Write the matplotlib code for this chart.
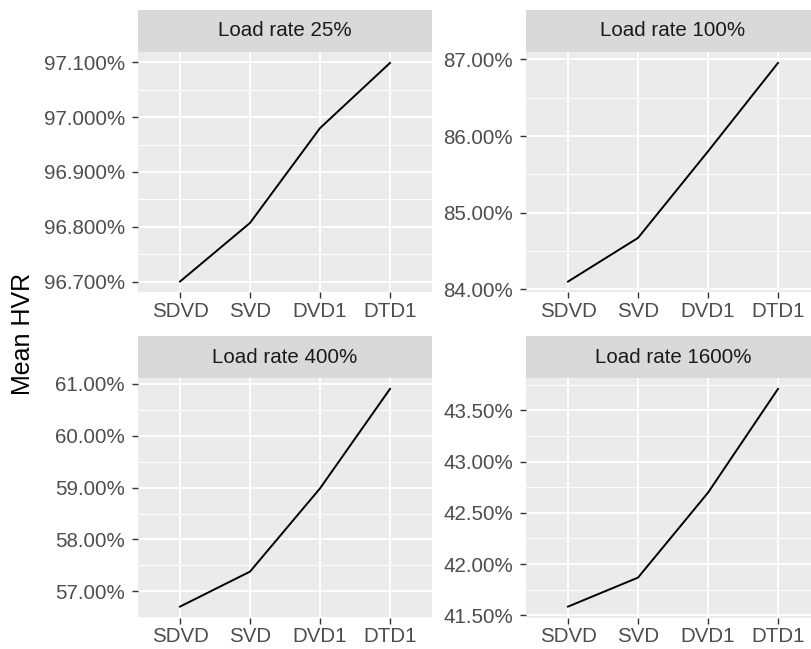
import matplotlib
matplotlib.use("Agg")
import matplotlib.pyplot as plt
from matplotlib.ticker import FixedLocator, AutoMinorLocator, FuncFormatter

plt.rcParams["font.family"] = ["Liberation Sans", "DejaVu Sans"]

methods = ["SDVD", "SVD", "DVD1", "DTD1"]
load_rates = ["25%", "100%", "400%", "1600%"]

# mean HVR in percent
hvr_25 = [96.700, 96.807, 96.980, 97.099]
hvr_100 = [84.10, 84.67, 85.80, 86.955]
hvr_400 = [56.705, 57.38, 58.985, 60.905]
hvr_1600 = [41.585, 41.868, 42.697, 43.71]

ticks_25 = [96.7, 96.8, 96.9, 97.0, 97.1]
ticks_100 = [84, 85, 86, 87]
ticks_400 = [57, 58, 59, 60, 61]
ticks_1600 = [41.5, 42.0, 42.5, 43.0, 43.5]
decimals = [3, 2, 2, 2]

series = [hvr_25, hvr_100, hvr_400, hvr_1600]
tick_sets = [ticks_25, ticks_100, ticks_400, ticks_1600]

W, H = 811, 649
fig = plt.figure(figsize=(W / 100, H / 100), dpi=100)

# panel boxes in pixels: (left, top, width, height)
panel_w = 294
lefts = [138, 526]
tops = [52, 378]
panel_h = [240.5, 239.5]
strip_h = 42

x = list(range(len(methods)))

for i, (vals, ticks, dec, rate) in enumerate(zip(series, tick_sets, decimals, load_rates)):
    row, col = divmod(i, 2)
    l, t = lefts[col], tops[row]
    ph = panel_h[row]
    ax = fig.add_axes([l / W, 1 - (t + ph) / H, panel_w / W, ph / H])
    ax.set_facecolor("#EBEBEB")
    for s in ax.spines.values():
        s.set_visible(False)

    ax.plot(x, vals, color="black", lw=1.4, zorder=3)

    ax.set_xlim(-0.6, len(methods) - 0.4)
    lo, hi = min(vals), max(vals)
    pad = (hi - lo) * 0.05
    ax.set_ylim(lo - pad, hi + pad)

    ax.set_xticks(x)
    ax.set_xticklabels(methods)
    ax.yaxis.set_major_locator(FixedLocator(ticks))
    ax.yaxis.set_minor_locator(AutoMinorLocator(2))
    ax.yaxis.set_major_formatter(FuncFormatter(lambda v, p, d=dec: f"{v:.{d}f}%"))

    ax.grid(True, which="major", color="white", lw=1.3)
    ax.grid(True, which="minor", axis="y", color="white", lw=0.65)
    ax.set_axisbelow(True)

    ax.tick_params(axis="both", which="major", length=4.5, width=1.0, color="#333333",
                   labelsize=14.8, labelcolor="#4D4D4D")
    ax.tick_params(axis="x", pad=2)
    ax.tick_params(axis="y", pad=5)
    ax.tick_params(which="minor", length=0)

    sax = fig.add_axes([l / W, 1 - t / H, panel_w / W, strip_h / H])
    sax.set_facecolor("#D9D9D9")
    sax.set_xticks([])
    sax.set_yticks([])
    for s in sax.spines.values():
        s.set_visible(False)
    sax.text(0.5, 0.5, f"Load rate {rate}", ha="center", va="center",
             fontsize=14.8, color="#1A1A1A", transform=sax.transAxes)

fig.text(23 / W, 1 - 334 / H, "Mean HVR", rotation=90, ha="center", va="center",
         fontsize=18, color="black")

fig.savefig("out.png", dpi=100)
